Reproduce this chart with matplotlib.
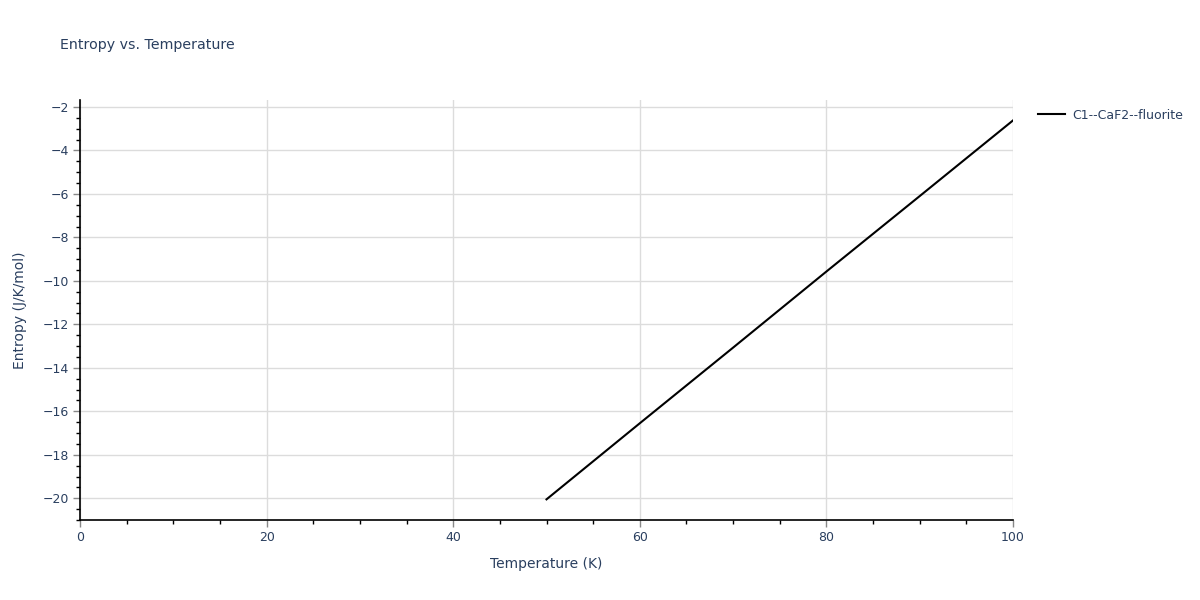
import matplotlib
matplotlib.use("Agg")
import matplotlib.pyplot as plt
from matplotlib.ticker import MultipleLocator

temperature = [50, 60, 70, 80, 90, 100]
entropy = [-20.05, -16.55, -13.07, -9.57, -6.10, -2.62]
series_name = "C1--CaF2--fluorite"

plt.rcParams['font.family'] = ['DejaVu Sans']
txt = '#2a3f5f'

fig = plt.figure(figsize=(12, 6), dpi=100)
ax = fig.add_axes([80/1200, 1-520/600, (1013-80)/1200, 420/600])

ax.plot(temperature, entropy, color='black', lw=1.5, label=series_name)

ax.set_xlim(0, 100)
ax.set_ylim(-21.0, -1.68)
ax.xaxis.set_major_locator(MultipleLocator(20))
ax.xaxis.set_minor_locator(MultipleLocator(5))
ax.yaxis.set_major_locator(MultipleLocator(2))
ax.yaxis.set_minor_locator(MultipleLocator(0.5))

ax.grid(True, which='major', color='#dcdcdc', lw=1)
ax.set_axisbelow(True)
for s in ['top', 'right']:
    ax.spines[s].set_visible(False)
for s in ['left', 'bottom']:
    ax.spines[s].set_color('black')
    ax.spines[s].set_linewidth(1.2)

ax.tick_params(which='major', direction='out', length=5, width=1, color='#888888',
               labelcolor=txt, labelsize=9)
ax.tick_params(which='minor', direction='out', length=3, width=1, color='black')
ax.tick_params(axis='x', which='major', pad=3)
ax.tick_params(axis='y', which='major', pad=3)

ax.yaxis.set_major_formatter(matplotlib.ticker.FuncFormatter(lambda v, p: f"{v:.0f}".replace('-', '\u2212')))

ax.set_xlabel("Temperature (K)", color=txt, fontsize=10, labelpad=9)
ax.set_ylabel("Entropy (J/K/mol)", color=txt, fontsize=10, labelpad=11)

fig.text(60/1200, 1-45/600, "Entropy vs. Temperature", color=txt, fontsize=10.2, va='center', ha='left')

leg = ax.legend(loc='upper left', bbox_to_anchor=(1013/933 - 80/933 + 0.017, 1.0), frameon=False,
                fontsize=9, labelcolor=txt, handlelength=2.2, handletextpad=0.6, borderaxespad=0.3)

fig.savefig("out.png", dpi=100)
